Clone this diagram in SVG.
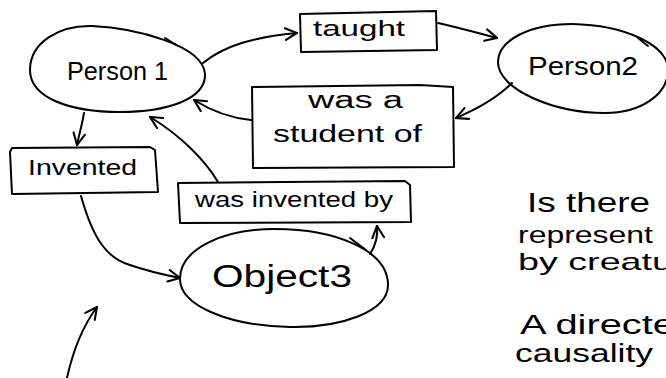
<svg xmlns="http://www.w3.org/2000/svg" width="666" height="378" viewBox="0 0 666 378">
<defs>
<style>
.s{fill:none;stroke:#000;stroke-width:2;stroke-linecap:round;stroke-linejoin:round}
.t{font-family:"Liberation Sans","DejaVu Sans",sans-serif;fill:#000}
</style>
<marker id="ah" viewBox="0 0 12 12" refX="11" refY="6" markerWidth="14" markerHeight="14" markerUnits="userSpaceOnUse" orient="auto">
<path d="M1,1 L11,6 L1,11" fill="none" stroke="#000" stroke-width="1.8" stroke-linecap="round"/>
</marker>
</defs>
<rect width="666" height="378" fill="#fff"/>

<g id="person1">
<path class="s" d="M205,74 C206,100 165,112 120,112 C70,112 30,98 30,70 C30,42 60,25 92,26 C135,28 203,45 205,74 Z"/>
<path class="s" d="M165,38 L178,46"/>
<text class="t" x="67" y="80" font-size="26" textLength="101" lengthAdjust="spacingAndGlyphs">Person 1</text>
</g>

<g id="taught">
<path class="s" d="M300,14 L436,11 L437,50 L301,52 Z"/>
<text class="t" x="313" y="36" font-size="22" textLength="92" lengthAdjust="spacingAndGlyphs">taught</text>
</g>

<g id="person2">
<path class="s" d="M498,62 C498,40 530,24 572,24 C625,25 668,45 668,70 C668,95 640,113 605,113 C555,113 498,90 498,62 Z"/>
<path class="s" d="M638,38 L648,46"/>
<text class="t" x="528" y="75" font-size="26" textLength="110" lengthAdjust="spacingAndGlyphs">Person2</text>
</g>

<g id="student">
<path class="s" d="M252,87 L420,85 L453,87 L454,167 L253,168 Z"/>
<text class="t" x="308" y="108" font-size="23" textLength="95" lengthAdjust="spacingAndGlyphs">was a</text>
<text class="t" x="273" y="142" font-size="23" textLength="149" lengthAdjust="spacingAndGlyphs">student of</text>
</g>

<g id="invented">
<path class="s" d="M10,152 L12,148 L150,147 L155,150 L158,192 L12,194 Z"/>
<text class="t" x="28" y="175" font-size="22" textLength="109" lengthAdjust="spacingAndGlyphs">Invented</text>
</g>

<g id="invented-by">
<path class="s" d="M178,183 L405,181 L410,185 L411,222 L180,223 Z"/>
<text class="t" x="195" y="207" font-size="22" textLength="198" lengthAdjust="spacingAndGlyphs">was invented by</text>
</g>

<g id="object3">
<path class="s" d="M180,279 C180,248 225,229 275,229 C335,229 388,250 388,285 C388,312 340,328 290,327 C230,326 180,306 180,279 Z"/>
<path class="s" d="M350,238 L366,250"/>
<text class="t" x="212" y="287" font-size="31" textLength="140" lengthAdjust="spacingAndGlyphs">Object3</text>
</g>

<g id="note">
<text class="t" x="527" y="212" font-size="27" textLength="123" lengthAdjust="spacingAndGlyphs">Is there</text>
<text class="t" x="518" y="243" font-size="24" textLength="135" lengthAdjust="spacingAndGlyphs">represent</text>
<text class="t" x="518" y="270" font-size="24" textLength="155" lengthAdjust="spacingAndGlyphs">by creatu</text>
<text class="t" x="520" y="334" font-size="27" textLength="155" lengthAdjust="spacingAndGlyphs">A directe</text>
<text class="t" x="515" y="362" font-size="26" textLength="138" lengthAdjust="spacingAndGlyphs">causality</text>
</g>

<g id="connectors">
<path class="s" marker-end="url(#ah)" d="M203,63 C225,45 255,37 297,33"/>
<path class="s" marker-end="url(#ah)" d="M438,23 C460,28 478,33 497,38"/>
<path class="s" marker-end="url(#ah)" d="M512,83 C495,100 475,110 456,118"/>
<path class="s" marker-end="url(#ah)" d="M251,120 C230,118 210,110 194,100"/>
<path class="s" marker-end="url(#ah)" d="M84,113 C82,125 79,135 77,145"/>
<path class="s" marker-end="url(#ah)" d="M81,196 C92,235 105,258 130,265 C150,272 165,275 180,278"/>
<path class="s" marker-end="url(#ah)" d="M218,182 C205,160 180,135 150,117"/>
<path class="s" marker-end="url(#ah)" d="M370,254 C376,245 378,236 377,226"/>
<path class="s" marker-end="url(#ah)" d="M67,378 C72,355 80,330 97,307"/>
</g>
</svg>
